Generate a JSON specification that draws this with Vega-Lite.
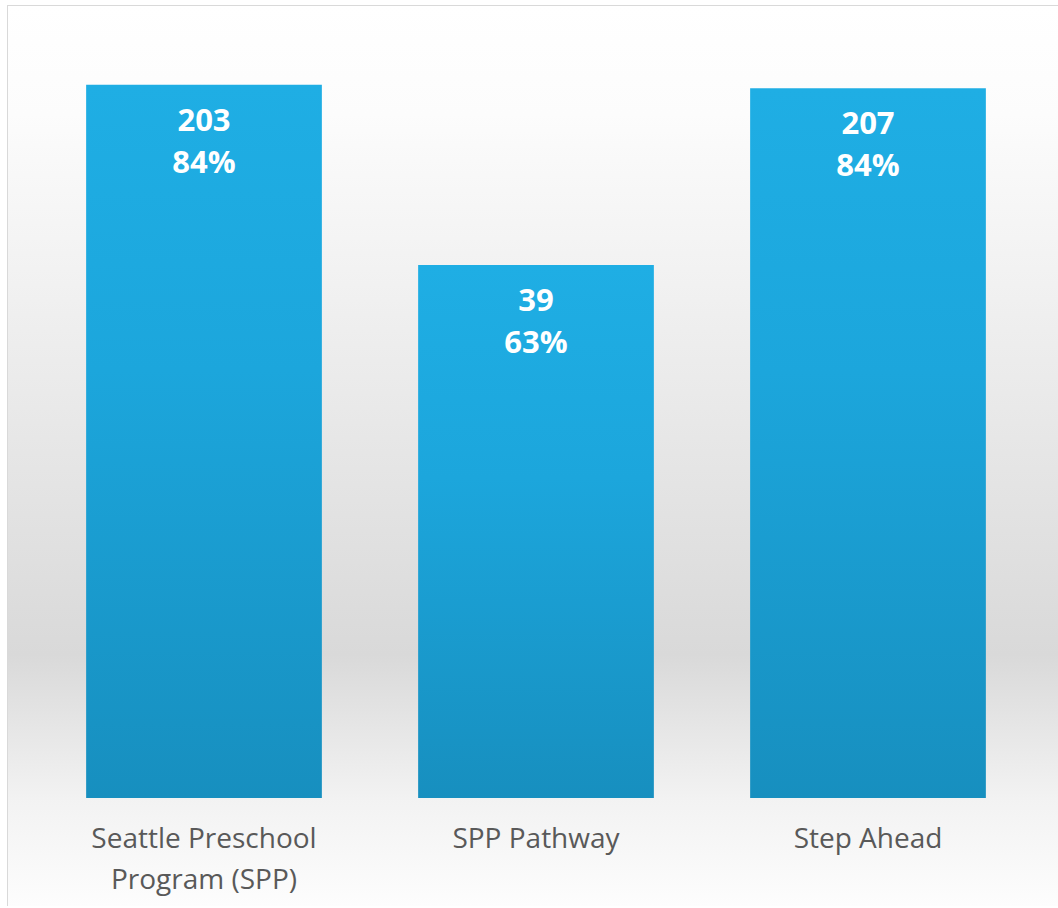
{
  "$schema": "https://vega.github.io/schema/vega-lite/v6.json",
  "width": 1050,
  "height": 900,
  "autosize": "none",
  "padding": {"left": 8, "top": 6, "right": 0, "bottom": 0},
  "background": "#ffffff",
  "config": {
    "view": {"stroke": "#d9d9d9", "strokeWidth": 2},
    "font": "Open Sans"
  },
  "layer": [
    {
      "data": {"values": [{}]},
      "mark": {
        "type": "rect",
        "color": {
          "gradient": "linear",
          "x1": 0, "y1": 0, "x2": 0, "y2": 1,
          "stops": [
            {"offset": 0, "color": "#ffffff"},
            {"offset": 0.12, "color": "#fcfcfc"},
            {"offset": 0.72, "color": "#d9d9d9"},
            {"offset": 0.88, "color": "#f2f2f2"},
            {"offset": 1, "color": "#fdfdfd"}
          ]
        }
      },
      "encoding": {}
    },
    {
      "data": {
        "values": [
          {"program": "Seattle Preschool Program (SPP)", "count": 203, "pct": 84.3, "pctLabel": "84%"},
          {"program": "SPP Pathway", "count": 39, "pct": 63, "pctLabel": "63%"},
          {"program": "Step Ahead", "count": 207, "pct": 83.9, "pctLabel": "84%"}
        ]
      },
      "encoding": {
        "x": {
          "field": "program",
          "type": "nominal",
          "sort": null,
          "scale": {"range": [30, 1026], "paddingInner": 0.29, "paddingOuter": 0.145},
          "axis": {
            "title": null,
            "orient": "bottom",
            "offset": -108,
            "zindex": 1,
            "domain": false,
            "ticks": false,
            "labelAngle": 0,
            "labelFont": "Open Sans",
            "labelFontSize": 28,
            "labelColor": "#595959",
            "labelPadding": 27,
            "labelLineHeight": 41,
            "labelBaseline": "top",
            "labelLimit": 400,
            "labelExpr": "datum.value == 'Seattle Preschool Program (SPP)' ? ['Seattle Preschool', 'Program (SPP)'] : datum.value"
          }
        },
        "y": {
          "field": "pct",
          "type": "quantitative",
          "scale": {"domain": [-12.77, 93.62], "nice": false, "zero": false},
          "axis": null
        }
      },
      "layer": [
        {
          "mark": {
            "type": "bar",
            "color": {
              "gradient": "linear",
              "x1": 0, "y1": 0, "x2": 0, "y2": 1,
              "stops": [
                {"offset": 0, "color": "#1faee4"},
                {"offset": 0.4, "color": "#1ca6dc"},
                {"offset": 1, "color": "#178fbf"}
              ]
            }
          },
          "encoding": {"y2": {"datum": 0}}
        },
        {
          "mark": {
            "type": "text",
            "color": "#ffffff",
            "font": "Open Sans",
            "fontWeight": "bold",
            "fontSize": 31,
            "baseline": "middle",
            "dy": 37
          },
          "encoding": {"text": {"field": "count", "type": "nominal"}}
        },
        {
          "mark": {
            "type": "text",
            "color": "#ffffff",
            "font": "Open Sans",
            "fontWeight": "bold",
            "fontSize": 31,
            "baseline": "middle",
            "dy": 79
          },
          "encoding": {"text": {"field": "pctLabel", "type": "nominal"}}
        }
      ]
    }
  ]
}
